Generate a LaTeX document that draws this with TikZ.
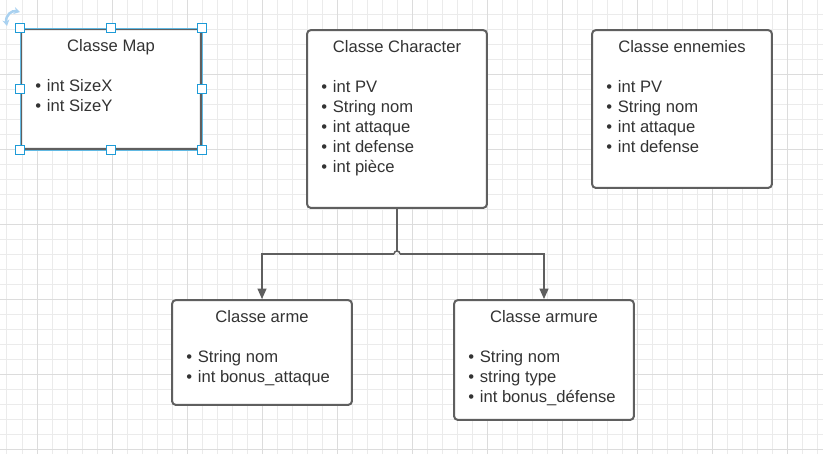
\documentclass[tikz,border=0pt]{standalone}
\usepackage{fontspec}
\setmainfont{Liberation Sans}
\usetikzlibrary{arrows.meta, positioning}
\definecolor{lcgrid}{HTML}{EBEBEB}
\definecolor{lcmajor}{HTML}{DCDCDC}
\definecolor{lcline}{HTML}{5F5F5F}
\definecolor{lctext}{HTML}{333333}
\definecolor{lcsel}{HTML}{1E9BD7}
\definecolor{lcrot}{HTML}{A9D1F0}

\begin{document}
\begin{tikzpicture}[x=0.02cm, y=-0.02cm,
      every node/.style={font=\fontsize{9.45}{11.4}\selectfont, text=lctext, inner sep=0pt},
      classbox/.style={rectangle, rounded corners=0.08cm, draw=lcline, line width=0.04cm, fill=white, minimum width=3.6cm},
      title/.style={anchor=base},
      item/.style={anchor=base west},
      handle/.style={rectangle, draw=lcsel, fill=white, line width=0.025cm, minimum size=0.18cm},
      arr/.style={-{Triangle[length=0.21cm, width=0.18cm]}, draw=lcline, line width=0.03cm}
    ]
    \useasboundingbox (0,0) rectangle (823,454);
    \fill[white] (0,0) rectangle (823,454);
    % grid
    \foreach \gx in {7,22,...,822} \draw[lcgrid, line width=0.02cm] (\gx,0) -- (\gx,454);
    \foreach \gy in {14,29,...,454} \draw[lcgrid, line width=0.02cm] (0,\gy) -- (823,\gy);
    \foreach \gx in {37,112,...,822} \draw[lcmajor, line width=0.02cm] (\gx,0) -- (\gx,454);
    \foreach \gy in {74,149,...,454} \draw[lcmajor, line width=0.02cm] (0,\gy) -- (823,\gy);

    % classes
    \node[classbox, minimum height=2.4cm]  (map)  at (111,89)    {};
    \node[classbox, minimum height=3.56cm] (char) at (397,119)   {};
    \node[classbox, minimum height=3.16cm] (enem) at (682,109)   {};
    \node[classbox, minimum height=2.1cm]  (arme) at (262,352.5) {};
    \node[classbox, minimum height=2.4cm]  (armu) at (544,360)   {};

    \node[title] (map-t)  at ([shift={(0,23)}]map.north)  {Classe Map};
    \node[title] (char-t) at ([shift={(0,23)}]char.north) {Classe Character};
    \node[title] (enem-t) at ([shift={(0,23)}]enem.north) {Classe ennemies};
    \node[title] (arme-t) at ([shift={(0,23)}]arme.north) {Classe arme};
    \node[title] (armu-t) at ([shift={(0,23)}]armu.north) {Classe armure};

    \foreach \t [count=\i] in {int SizeX, int SizeY}
      \node[item] (map-\i) at ([shift={(15,{63+20*(\i-1)})}]map.north west) {\makebox[0.23cm][l]{\textbullet}\t};
    \foreach \t [count=\i] in {int PV, String nom, int attaque, int defense, int pièce}
      \node[item] (char-\i) at ([shift={(15,{63+20*(\i-1)})}]char.north west) {\makebox[0.23cm][l]{\textbullet}\t};
    \foreach \t [count=\i] in {int PV, String nom, int attaque, int defense}
      \node[item] (enem-\i) at ([shift={(15,{63+20*(\i-1)})}]enem.north west) {\makebox[0.23cm][l]{\textbullet}\t};
    \foreach \t [count=\i] in {String nom, int bonus\_attaque}
      \node[item] (arme-\i) at ([shift={(15,{63+20*(\i-1)})}]arme.north west) {\makebox[0.23cm][l]{\textbullet}\t};
    \foreach \t [count=\i] in {String nom, string type, int bonus\_défense}
      \node[item] (armu-\i) at ([shift={(15,{63+20*(\i-1)})}]armu.north west) {\makebox[0.23cm][l]{\textbullet}\t};

    % connectors with line jump
    \coordinate (hop)  at (397,251);
    \coordinate (hopL) at (394,254);
    \coordinate (hopR) at (400,254);
    \draw[lcline, line width=0.03cm] (char.south) -- (hop);
    \draw[lcline, line width=0.03cm] (hopL) .. controls (394,250) and (400,250) .. (hopR);
    \draw[arr] (hopL) -| (arme.north);
    \draw[arr] (hopR) -| (armu.north);

    % selection of Classe Map
    \draw[lcsel!70, line width=0.012cm] (map.north west) rectangle (map.south east);
    \foreach \a [count=\i] in {north west, north, north east, west, east, south west, south, south east}
      \node[handle] (h\i) at (map.\a) {};
    \draw[lcrot, line width=0.05cm, {Stealth[length=0.12cm, width=0.14cm]}-{Stealth[length=0.12cm, width=0.14cm]}]
      (7,26) .. controls (5,15) and (12,10) .. (20,12);
  \end{tikzpicture}
\end{document}
